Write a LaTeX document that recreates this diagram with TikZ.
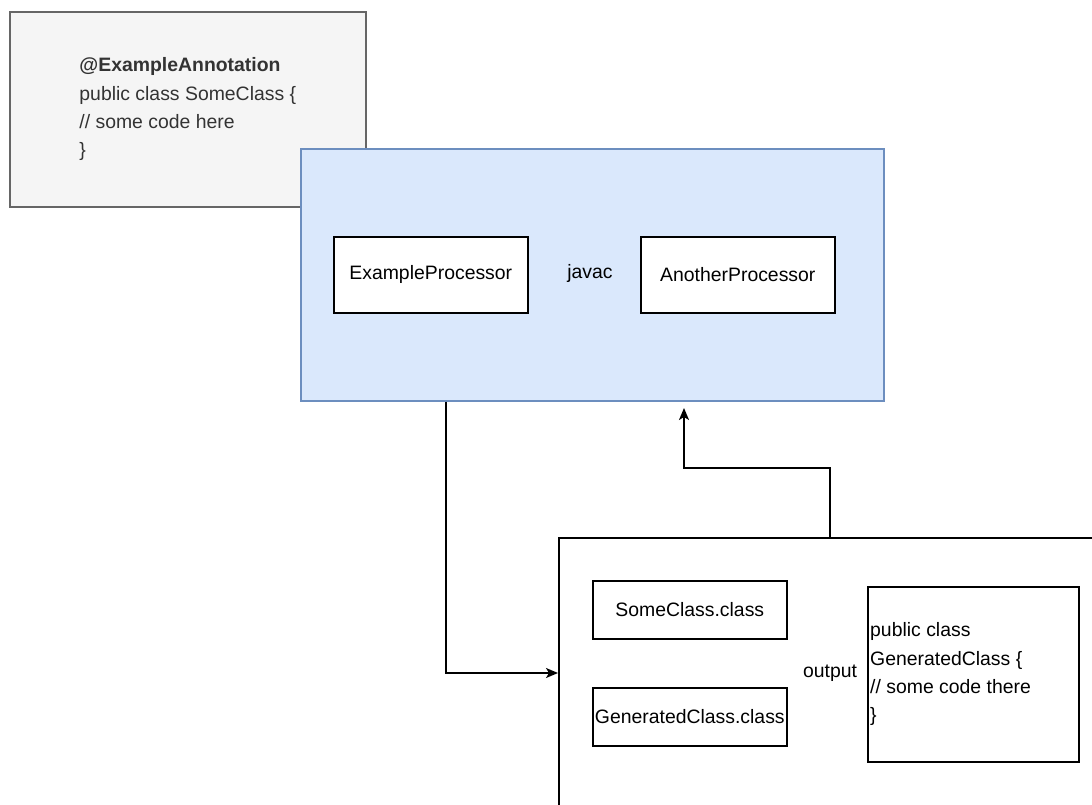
\documentclass[tikz,border=0pt]{standalone}
\usepackage{fontspec}
\setmainfont{Liberation Sans}
\usetikzlibrary{arrows.meta,calc}
\definecolor{grayfill}{HTML}{F5F5F5}
\definecolor{graystroke}{HTML}{666666}
\definecolor{grayfont}{HTML}{333333}
\definecolor{bluefill}{HTML}{DAE8FC}
\definecolor{bluestroke}{HTML}{6C8EBF}
\begin{document}
\begin{tikzpicture}[x=1pt,y=-1pt,
  txt/.style={font=\fontsize{19.4}{28.3}\selectfont},
  box/.style={draw=black,line width=1.6pt,fill=white,inner sep=0pt,anchor=north west,txt},
  arr/.style={draw=black,line width=1.6pt,-{Stealth[length=12pt,width=10pt,inset=3pt]}}]
\useasboundingbox (0,0) rectangle (1092,805);
\clip (0,0) rectangle (1092,805);
\fill[white] (0,0) rectangle (1092,805);
% source box
\node[draw=graystroke,fill=grayfill,line width=1.6pt,inner sep=0pt,anchor=north west,
      minimum width=356pt,minimum height=195pt] (src) at (9,11) {};
\node[txt,text=grayfont,align=left,inner sep=0pt] (srctxt) at (src.center)
  {\textbf{@ExampleAnnotation}\\public class SomeClass \{\\// some code here\\\}};
% javac box
\node[draw=bluestroke,fill=bluefill,line width=1.6pt,inner sep=0pt,anchor=north west,
      minimum width=583pt,minimum height=252pt] (javac) at (300,148) {};
\node[box,minimum width=194pt,minimum height=76pt] (ep) at (333,236) {ExampleProcessor};
\node[box,minimum width=194pt,minimum height=76pt] (ap) at (640,236) {AnotherProcessor};
\node[txt,inner sep=0pt] (javaclbl) at (590,273) {javac};
% output box
\node[box,minimum width=560pt,minimum height=300pt] (out) at (558,537) {};
\node[box,minimum width=194pt,minimum height=58pt] (sc) at (592,580) {SomeClass.class};
\node[box,minimum width=194pt,minimum height=58pt] (gc) at (592,687) {GeneratedClass.class};
\node[txt,inner sep=0pt] (outlbl) at (830,673) {output};
\node[box,minimum width=211pt,minimum height=175pt] (code) at (867,586) {};
\node[txt,align=left,inner sep=0pt,anchor=west] (codetxt) at ($(code.west)+(3,0)$)
  {public class\\GeneratedClass \{\\// some code there\\\}};
% connectors
\coordinate (a1) at (446,673);
\coordinate (a2) at (830,468);
\coordinate (a3) at (684,408);
\draw[arr] (javac.south -| a1) |- (out.west |- a1);
\draw[arr] (out.north -| a2) -- (a2) -| (a3);
\end{tikzpicture}
\end{document}
